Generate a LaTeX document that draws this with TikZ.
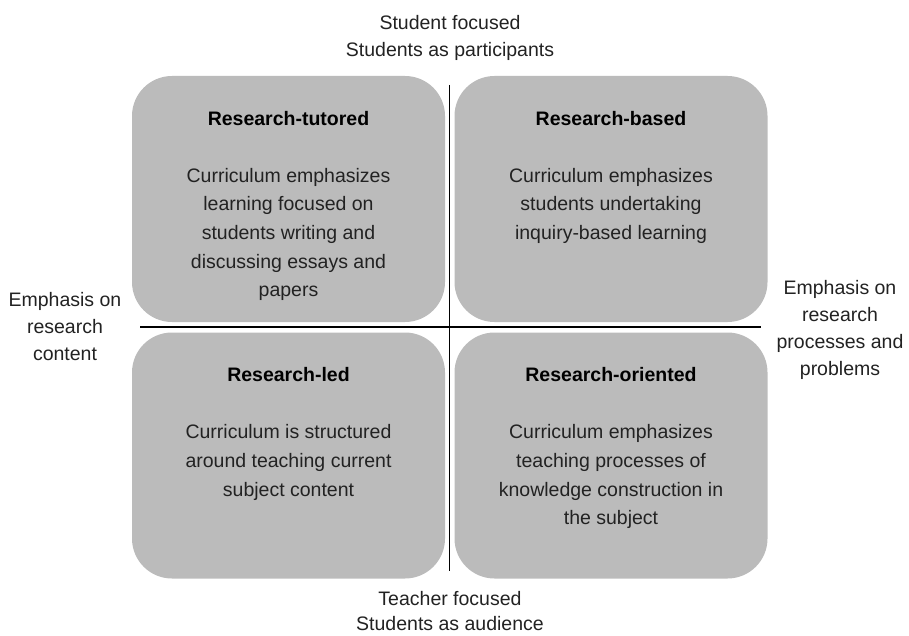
\documentclass[tikz,border=0pt]{standalone}
\usepackage{fontspec}
\setmainfont{Liberation Sans}
\usetikzlibrary{positioning}
\definecolor{quadgray}{RGB}{187,187,187}
\definecolor{txtgray}{RGB}{34,34,34}

\begin{document}
\begin{tikzpicture}[x=1pt, y=-1pt,
            quad/.style={rectangle, rounded corners=40pt, fill=quadgray, minimum width=313pt, minimum height=246pt, inner sep=0pt},
            ttl/.style={font=\fontsize{19.5}{28}\selectfont\bfseries, text=black, inner sep=0pt, anchor=north},
            body/.style={font=\fontsize{19.5}{28.7}\selectfont, text=txtgray, align=center, inner sep=0pt, anchor=north},
            lbl/.style={font=\fontsize{19.5}{27}\selectfont, text=txtgray, align=center, inner sep=0pt, anchor=north},
            axis/.style={line width=1.5pt, black}
        ]
            \useasboundingbox (0,0) rectangle (909,636);

% Quadrant boxes
            \node[quad] (tutored) at (288.5,199) {};
            \node[quad] (based) at (611,199) {};
            \node[quad] (led) at (288.5,455.5) {};
            \node[quad] (oriented) at (611,455.5) {};

% Box titles
            \node[ttl] at ([yshift=-35pt]tutored.north) {Research-tutored};
            \node[ttl] at ([yshift=-35pt]based.north) {Research-based};
            \node[ttl] at ([yshift=-35pt]led.north) {Research-led};
            \node[ttl] at ([yshift=-35pt]oriented.north) {Research-oriented};

% Box texts
            \node[body] at ([yshift=-92pt]tutored.north) {Curriculum emphasizes\\learning focused on\\students writing and\\discussing essays and\\papers};
            \node[body] at ([yshift=-92pt]based.north) {Curriculum emphasizes\\students undertaking\\inquiry-based learning};
            \node[body] at ([yshift=-92pt]led.north) {Curriculum is structured\\around teaching current\\subject content};
            \node[body] at ([yshift=-92pt]oriented.north) {Curriculum emphasizes\\teaching processes of\\knowledge construction in\\the subject};

% Axes
            \coordinate (vtop) at (449.5,85);
            \coordinate (vbot) at (449.5,571);
            \coordinate (hleft) at (140,327);
            \coordinate (hright) at (761,327);
            \draw[axis] (vtop) -- (vbot);
            \draw[axis] (hleft) -- (hright);

% Axis labels
            \node[lbl] (studentlbl) at (450,15) {Student focused\\Students as participants};
            \node[lbl, font=\fontsize{19.5}{25.5}\selectfont] (teacherlbl) at (450,591) {Teacher focused\\Students as audience};
            \node[lbl] (contentlbl) at (65,292) {Emphasis on\\research\\content};
            \node[lbl] (processlbl) at (840,280) {Emphasis on\\research\\processes and\\problems};

        \end{tikzpicture}
\end{document}
